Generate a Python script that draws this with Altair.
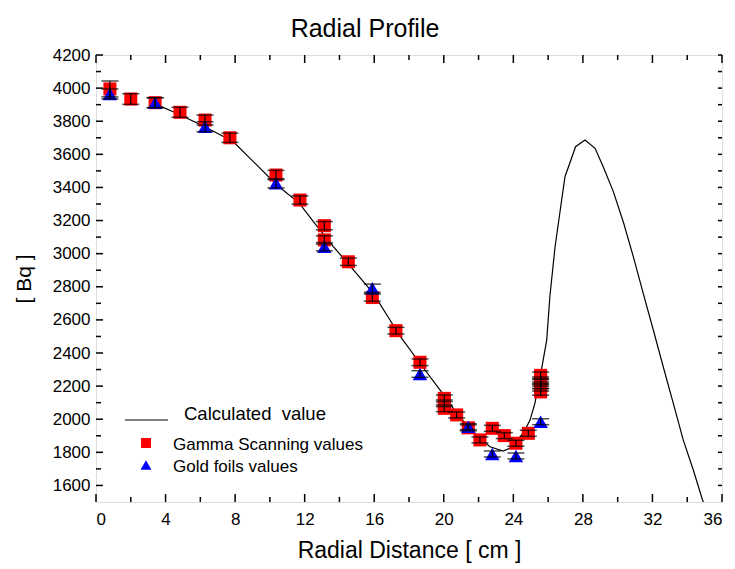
import altair as alt
import pandas as pd

# ---- data ----
line_x = [3.4, 4.6, 6.2, 7.9, 10.4, 11.7, 12.5, 13.65, 14.4, 15.95, 17.5, 18.63, 19.78,
          20.55, 21.31, 22.08, 22.66, 23.42, 24.0, 24.67, 24.96, 25.24, 25.63, 25.92,
          26.1, 26.4, 26.68, 26.97, 27.58, 28.12, 28.7, 29.17, 29.75, 30.33, 30.9,
          31.47, 32.05, 32.62, 33.2, 33.77, 34.35, 34.88, 35.0]
line_y = [3905, 3850, 3770, 3676, 3415, 3304, 3193, 3042, 2952, 2760, 2500, 2338, 2177,
          2066, 1965, 1885, 1834, 1808, 1834, 1935, 1995, 2096, 2307, 2478,
          2740, 3042, 3250, 3465, 3646, 3686, 3636, 3525, 3375, 3190, 2982,
          2760, 2539, 2317, 2096, 1875, 1693, 1512, 1480]

gamma_x = [0.8, 2.0, 3.4, 4.83, 6.27, 7.7, 10.35, 11.73, 13.13, 13.13, 14.51, 15.89,
           17.25, 18.63, 20.03, 20.03, 20.03, 20.74, 21.41, 22.08, 22.79, 23.48, 24.15,
           24.86, 25.57, 25.57, 25.57, 25.57, 25.57, 25.57]
gamma_y = [3995, 3934, 3912, 3854, 3807, 3700, 3475, 3324, 3169, 3083, 2951, 2735,
           2535, 2344, 2126, 2096, 2066, 2026, 1948, 1875, 1945, 1901, 1855,
           1915, 2265, 2235, 2220, 2205, 2190, 2165]
gamma_err = [48, 32, 30, 30, 30, 28, 28, 25, 25, 25, 22, 22,
             20, 20, 20, 20, 20, 18, 18, 18, 18, 18, 18,
             18, 20, 20, 20, 20, 20, 20]

gold_x = [0.8, 3.4, 6.27, 10.35, 13.13, 15.89, 18.63, 21.41, 22.79, 24.15, 25.57]
gold_y = [3965, 3912, 3767, 3425, 3042, 2791, 2273, 1955, 1790, 1778, 1985]
gold_err = [30, 30, 30, 28, 25, 25, 20, 18, 18, 18, 18]

x_major = [0, 4, 8, 12, 16, 20, 24, 28, 32, 36]
x_minor = [2, 6, 10, 14, 18, 22, 26, 30, 34]
y_major = [1600, 1800, 2000, 2200, 2400, 2600, 2800, 3000, 3200, 3400, 3600, 3800, 4000, 4200]
y_minor = [1700, 1900, 2100, 2300, 2500, 2700, 2900, 3100, 3300, 3500, 3700, 3900, 4100]

legend_labels = ["Calculated\u00a0 value", "Gamma Scanning values", "Gold foils values"]

# ---- layout ----
W, H = 626, 447
FONT = "Liberation Sans"

xscale = alt.Scale(domain=[0, 36], nice=False)
yscale = alt.Scale(domain=[1500, 4200], nice=False)

x_axis = alt.Axis(values=x_major, format="d", title="Radial Distance [ cm ]", ticks=False,
                  domain=False, grid=False, labelFontSize=17, titleFontSize=23, labelPadding=9,
                  titlePadding=12, labelFont=FONT, titleFont=FONT, titleFontWeight="normal",
                  labelColor="black", titleColor="black")
y_axis = alt.Axis(values=y_major, format="d", title="[ Bq ]", ticks=False, domain=False,
                  grid=False, labelFontSize=17, titleFontSize=21, labelPadding=6,
                  titlePadding=18, labelFont=FONT, titleFont=FONT, titleFontWeight="normal",
                  labelColor="black", titleColor="black")


def X(field):
    return alt.X(field, type="quantitative", scale=xscale, axis=x_axis)


def Y(field):
    return alt.Y(field, type="quantitative", scale=yscale, axis=y_axis)


line_df = pd.DataFrame({"x": line_x, "y": line_y})
gamma_df = pd.DataFrame({"x": gamma_x, "y": gamma_y, "e": gamma_err})
gamma_df["lo"] = gamma_df["y"] - gamma_df["e"]
gamma_df["hi"] = gamma_df["y"] + gamma_df["e"]
gold_df = pd.DataFrame({"x": gold_x, "y": gold_y, "e": gold_err})
gold_df["lo"] = gold_df["y"] - gold_df["e"]
gold_df["hi"] = gold_df["y"] + gold_df["e"]
err_df = pd.concat([gamma_df, gold_df], ignore_index=True)

line = alt.Chart(line_df).mark_line(color="black", strokeWidth=1.2, clip=True).encode(
    x=X("x"), y=Y("y"))

squares = alt.Chart(gamma_df).mark_point(shape="square", filled=True, color="#ff0000",
                                          size=170, opacity=1).encode(x=X("x"), y=Y("y"))
triangles = alt.Chart(gold_df).mark_point(shape="triangle-up", filled=True, color="#0000ff",
                                           size=210, opacity=1).encode(x=X("x"), y=Y("y"))

err_rule = alt.Chart(err_df).mark_rule(color="black", strokeWidth=1.2).encode(
    x=X("x"), y=Y("lo"), y2="hi")
err_lo = alt.Chart(err_df).mark_tick(color="black", size=17, thickness=1.5,
                                     orient="horizontal").encode(x=X("x"), y=Y("lo"))
err_hi = alt.Chart(err_df).mark_tick(color="black", size=17, thickness=1.5,
                                     orient="horizontal").encode(x=X("x"), y=Y("hi"))

# inward ticks
xmaj_df = pd.DataFrame({"x": x_major})
xmin_df = pd.DataFrame({"x": x_minor})
ymaj_df = pd.DataFrame({"y": y_major})
ymin_df = pd.DataFrame({"y": y_minor})
ally_df = pd.DataFrame({"y": y_major + y_minor})

tk = dict(color="black", strokeWidth=1.5)
ticks = [
    alt.Chart(xmaj_df).mark_rule(**tk).encode(x=X("x"), y=alt.value(H), y2=alt.value(H - 8)),
    alt.Chart(xmin_df).mark_rule(**tk).encode(x=X("x"), y=alt.value(H), y2=alt.value(H - 5)),
    alt.Chart(xmaj_df).mark_rule(**tk).encode(x=X("x"), y=alt.value(0), y2=alt.value(8)),
    alt.Chart(xmin_df).mark_rule(**tk).encode(x=X("x"), y=alt.value(0), y2=alt.value(5)),
    alt.Chart(ymaj_df).mark_rule(**tk).encode(y=Y("y"), x=alt.value(0), x2=alt.value(7)),
    alt.Chart(ymin_df).mark_rule(**tk).encode(y=Y("y"), x=alt.value(0), x2=alt.value(5)),
    alt.Chart(ally_df).mark_rule(**tk).encode(y=Y("y"), x=alt.value(W), x2=alt.value(W - 4)),
]

# legend (drawn inside plot)
leg_line = alt.Chart(pd.DataFrame({"k": [0]})).mark_rule(color="black", strokeWidth=1).encode(
    x=alt.value(29), x2=alt.value(72), y=alt.value(365))
leg_sq = alt.Chart(pd.DataFrame({"k": [0]})).mark_point(
    shape="square", filled=True, color="#ff0000", size=100, opacity=1).encode(
    x=alt.value(50), y=alt.value(388))
leg_tri = alt.Chart(pd.DataFrame({"k": [0]})).mark_point(
    shape="triangle-up", filled=True, color="#0000ff", size=120, opacity=1).encode(
    x=alt.value(50), y=alt.value(410))
leg_text_df = pd.DataFrame({"t": legend_labels})
leg_texts = [
    alt.Chart(leg_text_df.iloc[[0]]).mark_text(align="left", baseline="middle", fontSize=18.5,
                                                font=FONT, color="black").encode(
        x=alt.value(88), y=alt.value(359), text="t:N"),
    alt.Chart(leg_text_df.iloc[[1]]).mark_text(align="left", baseline="middle", fontSize=17,
                                                font=FONT, color="black").encode(
        x=alt.value(77), y=alt.value(390), text="t:N"),
    alt.Chart(leg_text_df.iloc[[2]]).mark_text(align="left", baseline="middle", fontSize=17,
                                                font=FONT, color="black").encode(
        x=alt.value(77), y=alt.value(412), text="t:N"),
]

chart = alt.layer(
    line, squares, triangles, err_rule, err_lo, err_hi, *ticks,
    leg_line, leg_sq, leg_tri, *leg_texts
).properties(
    width=W, height=H,
    title=alt.TitleParams("Radial Profile", fontSize=25, font=FONT, fontWeight="normal",
                          color="black", dx=-44, offset=4),
    autosize=alt.AutoSizeParams(type="none"),
    padding={"left": 88, "top": 47, "right": 5, "bottom": 70},
).configure_view(
    stroke="black", strokeWidth=2
).configure(background="white")

chart.save("out.html", embed_options={"renderer": "svg", "actions": False})
